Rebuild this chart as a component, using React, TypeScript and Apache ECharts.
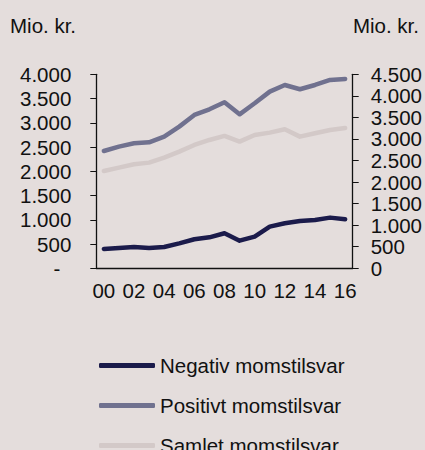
import React, { useEffect, useRef } from "react";
import * as echarts from "echarts";

const years = ["00","01","02","03","04","05","06","07","08","09","10","11","12","13","14","15","16"];
const negativ = [399, 419, 440, 419, 440, 515, 598, 639, 722, 570, 653, 859, 928, 976, 997, 1045, 1010];
const positivt = [2419, 2509, 2577, 2598, 2715, 2921, 3162, 3278, 3423, 3175, 3402, 3643, 3780, 3691, 3780, 3883, 3904];
const samlet = [2007, 2076, 2144, 2179, 2282, 2406, 2543, 2646, 2729, 2612, 2749, 2797, 2866, 2715, 2784, 2852, 2893];
const seriesNames = ["Negativ momstilsvar", "Positivt momstilsvar", "Samlet momstilsvar"];
const unitLabel = "Mio. kr.";

const FONT = "'Liberation Sans', Arial, sans-serif";
const FS = 20.5;

function fmt(v: number): string {
  return String(v).replace(/\B(?=(\d{3})+(?!\d))/g, ".");
}

export default function App() {
  const ref = useRef<HTMLDivElement>(null);
  useEffect(() => {
    const chart = echarts.init(ref.current!, null, { renderer: "svg" });
    const lineSeries = (name: string, data: number[], color: string) => ({
      name,
      type: "line",
      data,
      symbol: "none",
      lineStyle: { color, width: 4.5, cap: "round", join: "round" },
      itemStyle: { color },
    });
    chart.setOption({
      animation: false,
      backgroundColor: "#e4dddc",
      textStyle: { fontFamily: FONT },
      grid: { left: 96.3, right: 71.7, top: 74.3, bottom: 181.7, containLabel: false },
      graphic: [
        { type: "text", left: 10, top: 15, style: { text: unitLabel, font: `${FS}px ${FONT}`, fill: "#111" } },
        { type: "text", right: 6, top: 15, style: { text: unitLabel, font: `${FS}px ${FONT}`, fill: "#111" } },
      ],
      xAxis: {
        type: "category",
        data: years,
        boundaryGap: true,
        axisLine: { lineStyle: { color: "#111", width: 1.3 } },
        axisTick: { show: false },
        axisLabel: { interval: 1, color: "#111", fontSize: FS, fontFamily: FONT, margin: 12 },
      },
      yAxis: [
        {
          type: "value",
          min: 0,
          max: 4000,
          interval: 500,
          splitLine: { show: false },
          axisLine: { show: true, lineStyle: { color: "#111", width: 1.3 } },
          axisTick: { show: true, inside: false, length: 6, lineStyle: { color: "#111" } },
          axisLabel: {
            color: "#111",
            fontSize: FS,
            fontFamily: FONT,
            margin: 25,
            formatter: (v: number) => (v === 0 ? "{d|-}" : fmt(v)),
            rich: { d: { padding: [0, 11, 0, 0], fontSize: FS, fontFamily: FONT, color: "#111" } },
          },
        },
        {
          type: "value",
          position: "right",
          min: 0,
          max: 4500,
          interval: 500,
          splitLine: { show: false },
          axisLine: { show: true, lineStyle: { color: "#111", width: 1.3 } },
          axisTick: { show: true, inside: false, length: 6, lineStyle: { color: "#111" } },
          axisLabel: { color: "#111", fontSize: FS, fontFamily: FONT, margin: 18, formatter: (v: number) => fmt(v) },
        },
      ],
      legend: {
        orient: "vertical",
        left: 99,
        top: 355,
        height: 160,
        padding: 0,
        icon: "roundRect",
        itemWidth: 56,
        itemHeight: 5,
        itemGap: 19,
        textStyle: { color: "#111", fontSize: FS, fontFamily: FONT },
        data: seriesNames,
      },
      series: [
        lineSeries(seriesNames[0], negativ, "#1b1b4b"),
        lineSeries(seriesNames[1], positivt, "#70718f"),
        lineSeries(seriesNames[2], samlet, "#d3c9c8"),
      ],
    });
    return () => chart.dispose();
  }, []);
  return <div ref={ref} style={{ position: "fixed", left: 0, top: 0, width: 425, height: 450 }} />;
}
